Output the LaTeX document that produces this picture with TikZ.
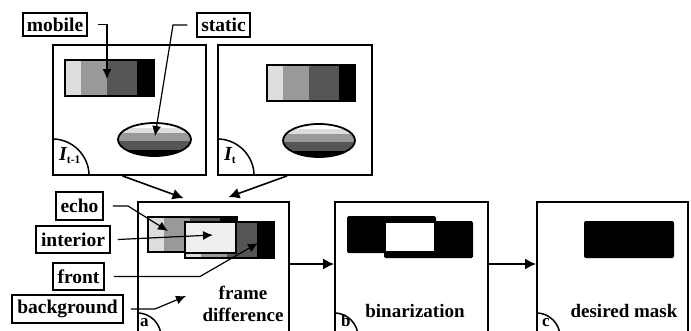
\documentclass[tikz,border=0pt]{standalone}
\usepackage{fontspec}
\setmainfont{Liberation Serif}
\usetikzlibrary{arrows.meta,calc}
\definecolor{lg}{HTML}{DDDDDD}
\definecolor{mg}{HTML}{999999}
\definecolor{dg}{HTML}{555555}
\definecolor{ig}{HTML}{EEEEEE}
\begin{document}
\begin{tikzpicture}[x=1pt,y=-1pt,
  panel/.style={draw,line width=1.8pt,inner sep=0pt},
  lbl/.style={draw,line width=1.5pt,inner sep=0pt,font=\bfseries\fontsize{19.5}{20}\selectfont},
  ptext/.style={font=\bfseries\fontsize{19}{22}\selectfont,align=center,inner sep=0pt},
  arr/.style={line width=1.6pt,-{Latex[length=11pt,width=11pt]}},
  con/.style={line width=1.2pt,-{Latex[length=10pt,width=9pt]}},
  bandbox/.style={line width=1.8pt},
  corner/.style={line width=1.5pt},
  cornerlbl/.style={font=\bfseries\fontsize{17}{17}\selectfont,inner sep=0pt,anchor=base west}]
\useasboundingbox (0,0) rectangle (691,330);
\clip (0,0) rectangle (691,330);
% panels
\node[panel,minimum width=153pt,minimum height=130pt] (p1) at (129.5,110) {};
\node[panel,minimum width=154pt,minimum height=130pt] (p2) at (295,110) {};
\node[panel,minimum width=151pt,minimum height=134pt] (pa) at (213.5,269) {};
\node[panel,minimum width=153pt,minimum height=134pt] (pb) at (411.5,269) {};
\node[panel,minimum width=151pt,minimum height=134pt] (pc) at (612.5,269) {};
% quarter circles
\draw[corner] (p1.south west) ++(37pt,0) arc[start angle=0,end angle=90,radius=37pt];
\draw[corner] (p2.south west) ++(37pt,0) arc[start angle=0,end angle=90,radius=37pt];
\draw[corner] (pa.south west) ++(24pt,0) arc[start angle=0,end angle=90,radius=24pt];
\draw[corner] (pb.south west) ++(24pt,0) arc[start angle=0,end angle=90,radius=24pt];
\draw[corner] (pc.south west) ++(24pt,0) arc[start angle=0,end angle=90,radius=24pt];
\node[anchor=base west,inner sep=0pt,font=\bfseries\itshape\fontsize{20}{20}\selectfont] (i1) at (59,160) {I\raisebox{-3pt}{\upshape\fontsize{11.5}{11.5}\selectfont t-1}};
\node[anchor=base west,inner sep=0pt,font=\bfseries\itshape\fontsize{20}{20}\selectfont] (i2) at (224,160) {I\raisebox{-3pt}{\upshape\fontsize{11.5}{11.5}\selectfont t}};
\node[cornerlbl] (la) at (140,326) {a};
\node[cornerlbl] (lb) at (341,326) {b};
\node[cornerlbl] (lc) at (542,326) {c};
% panel 1 contents
\fill[lg] (65,60) rectangle (81,96);
\fill[mg] (81,60) rectangle (107,96);
\fill[dg] (107,60) rectangle (137,96);
\fill[black] (137,60) rectangle (154,96);
\draw[bandbox] (65,60) rectangle (154,96);
\begin{scope}
\clip (154.5,139.5) ellipse[x radius=36.5pt,y radius=16.5pt];
\fill[white] (110,120) rectangle (200,128);
\fill[lg] (110,128) rectangle (200,133);
\fill[mg] (110,133) rectangle (200,141);
\fill[dg] (110,141) rectangle (200,150);
\fill[black] (110,150) rectangle (200,160);
\end{scope}
\draw[bandbox] (154.5,139.5) ellipse[x radius=36.5pt,y radius=16.5pt];
% panel 2 contents
\fill[lg] (267,65) rectangle (283,101);
\fill[mg] (283,65) rectangle (309,101);
\fill[dg] (309,65) rectangle (339,101);
\fill[black] (339,65) rectangle (355,101);
\draw[bandbox] (267,65) rectangle (355,101);
\begin{scope}
\clip (319,140.5) ellipse[x radius=36pt,y radius=16.5pt];
\fill[white] (280,120) rectangle (360,129);
\fill[lg] (280,129) rectangle (360,134);
\fill[mg] (280,134) rectangle (360,142);
\fill[dg] (280,142) rectangle (360,151);
\fill[black] (280,151) rectangle (360,160);
\end{scope}
\draw[bandbox] (319,140.5) ellipse[x radius=36pt,y radius=16.5pt];
% panel a contents
\fill[lg] (148,217) rectangle (164,252);
\fill[mg] (164,217) rectangle (190,252);
\fill[dg] (190,217) rectangle (220,252);
\fill[black] (220,217) rectangle (237,252);
\draw[bandbox] (148,217) rectangle (237,252);
\fill[lg] (185,222) rectangle (201,258);
\fill[mg] (201,222) rectangle (227,258);
\fill[dg] (227,222) rectangle (257,258);
\fill[black] (257,222) rectangle (274,258);
\draw[bandbox] (185,222) rectangle (274,258);
\filldraw[fill=ig,bandbox] (185,222) rectangle (236,253);
% panel b contents
\fill[black,rounded corners=1.5pt] (347,216) rectangle (436,253);
\fill[black,rounded corners=1.5pt] (384,221) rectangle (473,258);
\fill[white] (386,223) rectangle (434,251);
% panel c contents
\fill[black,rounded corners=2pt] (584,221) rectangle (674,258);
% panel texts
\node[ptext] (ta) at (243,304) {frame\\difference};
\node[ptext,anchor=base] (tb) at (415,317) {binarization};
\node[ptext,anchor=base] (tc) at (624,317) {desired mask};
% labels
\node[lbl,minimum width=64pt,minimum height=23pt] (mobile) at (55,24.5) {mobile};
\node[lbl,minimum width=53pt,minimum height=24pt] (static) at (223.5,25) {static};
\node[lbl,minimum width=47pt,minimum height=28pt] (echo) at (79.5,206) {echo};
\node[lbl,minimum width=74pt,minimum height=27pt] (interior) at (73,239.5) {interior};
\node[lbl,minimum width=51pt,minimum height=27pt] (front) at (78.5,276.5) {front};
\node[lbl,minimum width=111pt,minimum height=28pt] (background) at (67.5,309) {background};
% connector coordinates
\coordinate (mobtip) at (107,79);
\coordinate (statbend) at (173,25);
\coordinate (stattip) at (155,136);
\coordinate (echobend) at (128,206);
\coordinate (echotip) at (168,231);
\coordinate (inttip) at (213,235);
\coordinate (frontbend) at (200,276.5);
\coordinate (fronttip) at (258,243);
\coordinate (bgbend) at (155,309);
\coordinate (bgtip) at (186,296);
\draw[con] ([xshift=10pt]mobile.east) -| (mobtip);
\draw[con] ([xshift=-9pt]static.west) -- (statbend) -- (stattip);
\draw[con] ([xshift=9pt]echo.east) -- (echobend) -- (echotip);
\draw[con] ([xshift=7pt]interior.east) -- (inttip);
\draw[con] ([xshift=9pt]front.east) -- (frontbend) -- (fronttip);
\draw[con] ([xshift=7pt]background.east) -- (bgbend) -- (bgtip);
% flow arrows
\draw[arr] ([xshift=-7pt]p1.south) -- ([xshift=-30pt,yshift=3pt]pa.north);
\draw[arr] ([xshift=-8pt]p2.south) -- ([xshift=15pt,yshift=4pt]pa.north);
\draw[arr] ([yshift=5pt]pa.east) -- ([yshift=5pt]pb.west);
\draw[arr] ([yshift=5pt]pb.east) -- ([yshift=5pt]pc.west);
\end{tikzpicture}
\end{document}
